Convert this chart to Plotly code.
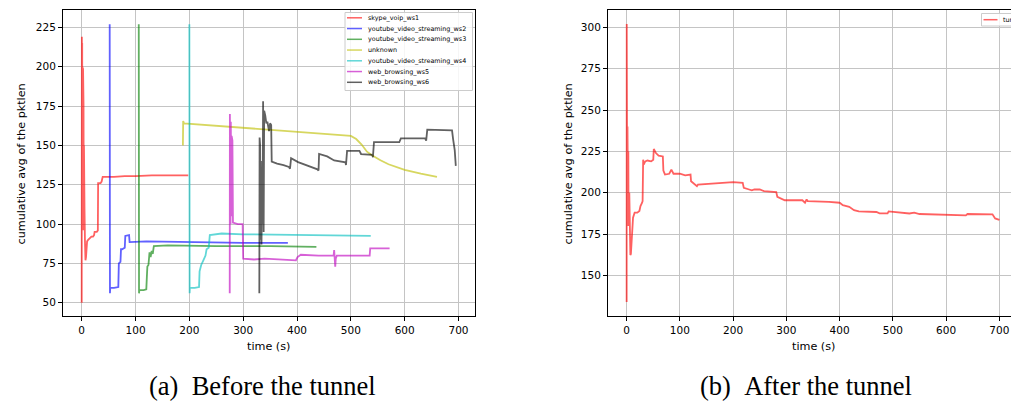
import plotly.graph_objects as go

# ---------------- data ----------------
series_names = ["skype_voip_ws1", "youtube_video_streaming_ws2", "youtube_video_streaming_ws3",
                "unknown", "youtube_video_streaming_ws4", "web_browsing_ws5", "web_browsing_ws6"]
series_colors = ["#ff0000", "#0000ff", "#008000", "#bfbf00", "#00bfbf", "#bf00bf", "#000000"]

ws1_t = [0, 0.1, 0.3, 0.6, 0.9, 1.2, 1.6, 2.0, 2.5, 3.0, 3.4, 3.8, 4.2, 4.6, 5.2, 6, 7, 8, 9, 10,
         12, 15, 18, 21, 23, 24, 28, 30, 30.5, 35, 37, 39, 45, 60, 80, 100, 130, 160, 198]
ws1_v = [50, 62, 219, 100, 215, 97, 200, 96, 199, 105, 176, 96, 150, 97, 110, 90, 77, 79, 84, 89,
         90, 91, 92, 92, 93, 95, 95, 96, 126, 126, 127, 130, 130, 130, 130.5, 130.5, 131, 131, 131]

ws2_t = [52, 52.5, 53, 60, 68, 69, 72, 73, 75, 80, 81, 88, 89, 120, 200, 300, 383]
ws2_v = [227, 56, 59.5, 59.5, 60, 75, 76, 84, 84, 85, 92.5, 93, 88.5, 89, 88.5, 88, 88]

ws3_t = [106, 106.5, 107, 115, 120, 121, 122, 124, 126, 128, 130, 132, 134, 160, 250, 350, 436]
ws3_v = [227, 56, 58, 58, 58.5, 66, 73, 74, 82, 79, 83, 81, 86, 86.5, 86, 86, 85.5]

unk_t = [188, 188.5, 190, 250, 300, 350, 400, 450, 500, 510, 520, 530, 540, 555, 570, 600, 630, 660]
unk_v = [150, 165.5, 164, 162.5, 161.3, 160, 158.7, 157.4, 156, 154, 150.5, 146, 143.5, 140.5,
         138, 134.5, 132, 130]

ws4_t = [200, 200.5, 201, 210, 218, 219, 222, 226, 230, 232, 236, 238, 260, 300, 400, 537]
ws4_v = [227, 56, 59.5, 59.5, 60, 70, 74, 77, 80, 84, 85, 93, 94, 93.5, 93, 92.5]

ws5_t = [275, 275.3, 276, 276.5, 277, 278, 278.5, 280, 281, 290, 299, 300, 320, 340, 380, 398,
         401, 407, 440, 468, 469, 470, 471, 472, 474, 500, 535, 536, 572]
ws5_v = [56, 170, 140, 100, 165, 105, 156, 153, 101, 100, 100, 78, 77.5, 78, 77.5, 77,
         79, 80.5, 80, 80, 83.5, 79, 73, 78, 80, 80, 80, 84.5, 84.5]

ws6_t = [330, 330.5, 331, 331.5, 332, 333, 334, 335, 336, 337, 338, 339, 341, 343, 345, 348, 350,
         352, 353, 363, 375, 385, 387, 389, 402, 419, 438, 440, 441, 456, 469, 490, 491, 493, 516,
         519, 540, 541, 543, 590, 593, 638, 640, 642, 688, 690, 693, 695]
ws6_v = [56, 155, 88, 150, 90, 140, 87, 120, 100, 178, 95, 172, 169, 164, 165, 159, 164,
         163, 139.7, 138.4, 137.5, 136.3, 135.2, 141.9, 139.4, 137.3, 134.8, 134, 144.6, 143, 140.4,
         139.2, 137.5, 146.5, 146.5, 144.5, 144, 142.5, 152, 152, 154.5, 154.5, 153, 160, 159.5,
         154, 147, 137]

tunnel_t = [0, 0.2, 0.4, 0.8, 1.2, 1.6, 2.0, 2.4, 2.8, 3.2, 3.6, 4.0, 4.5, 5, 5.5, 6, 7, 8, 10, 12,
            15, 20, 24, 26, 29, 30, 31, 32, 35, 39, 46, 50, 51, 55, 60, 68, 69, 72, 80, 84,
            88, 100, 110, 120, 121, 130, 132, 134, 160, 200, 218, 220, 230, 235, 240, 250, 258,
            281, 283, 290, 297, 330, 335, 338, 340, 380, 400, 406, 418, 427, 436, 469, 475, 490,
            492, 531, 540, 550, 600, 637, 640, 687, 692, 700]
tunnel_v = [134, 302, 140, 245, 180, 240, 185, 235, 182, 225, 180, 215, 185, 200, 175, 190, 162.5,
            163, 175, 185, 188, 188, 189, 192, 194, 195, 220, 217, 219, 219.5, 219, 220, 226.5, 224,
            222.5, 222, 213.5, 211, 211.5, 214, 211.5, 211.5, 210.5, 211, 207, 205, 204, 205,
            205.5, 206.5, 206, 203, 202, 201.5, 202, 202, 201, 200.5, 197.5, 196.5, 195.5, 195.5,
            194, 196, 195, 194.5, 194, 192.5, 191.5, 189.5, 188.8, 188.4, 187.6, 187.6, 188.8,
            187.5, 188, 187.2, 186.8, 186.4, 187.2, 187, 184.5, 183.7]
tunnel_name = "tunnel"

x_ticks = [0, 100, 200, 300, 400, 500, 600, 700]
left_y_ticks = [50, 75, 100, 125, 150, 175, 200, 225]
right_y_ticks = [150, 175, 200, 225, 250, 275, 300]
axis_x_label = "time (s)"
axis_y_label = "cumulative avg of the pktlen"
caption_a = "(a)\u00a0\u00a0Before the tunnel"
caption_b = "(b)\u00a0\u00a0After the tunnel"

left_series = [(ws1_t, ws1_v), (ws2_t, ws2_v), (ws3_t, ws3_v), (unk_t, unk_v),
               (ws4_t, ws4_v), (ws5_t, ws5_v), (ws6_t, ws6_v)]

# ---------------- layout geometry (pixels) ----------------
W, H = 1011, 404
def px(x):
    return x / W
def py(y):
    return 1 - y / H

LW = 1.8
OP = 0.62

fig = go.Figure()
for (t, v), name, col in zip(left_series, series_names, series_colors):
    fig.add_trace(go.Scatter(x=t, y=v, mode="lines", name=name, opacity=OP,
                             line=dict(color=col, width=LW), xaxis="x", yaxis="y"))
fig.add_trace(go.Scatter(x=tunnel_t, y=tunnel_v, mode="lines", name=tunnel_name, opacity=OP,
                         line=dict(color="#ff0000", width=LW), xaxis="x2", yaxis="y2"))

tickfont = dict(family="DejaVu Sans", size=10.5, color="black")
common_x = dict(showgrid=True, gridcolor="#c4c4c4", gridwidth=1, zeroline=False,
                showline=True, linecolor="black", linewidth=1, ticks="outside", ticklen=4,
                tickcolor="black", tickwidth=1, tickvals=x_ticks, tickfont=tickfont)
common_y = dict(showgrid=True, gridcolor="#c4c4c4", gridwidth=1, zeroline=False,
                showline=True, linecolor="black", linewidth=1, ticks="outside", ticklen=4,
                tickcolor="black", tickwidth=1, tickfont=tickfont)

fig.update_layout(
    width=W, height=H, margin=dict(l=0, r=0, t=0, b=0, autoexpand=False),
    paper_bgcolor="white", plot_bgcolor="white", showlegend=False,
    xaxis=dict(domain=[px(63), px(474.5)], range=[-34.75, 729.75], anchor="y", mirror=True, **common_x),
    yaxis=dict(domain=[py(316), py(10)], range=[41.6, 236], anchor="x", mirror=True,
               tickvals=left_y_ticks, **common_y),
    xaxis2=dict(domain=[px(608), 1.0], range=[-35, 721.8], anchor="y2", mirror=True, **common_x),
    yaxis2=dict(domain=[py(316), py(10)], range=[125.6, 310.4], anchor="x2", mirror=False,
                tickvals=right_y_ticks, **common_y),
)

shapes = []
annotations = []
# left legend (matplotlib-like box)
shapes.append(dict(type="rect", xref="paper", yref="paper", x0=px(345), x1=px(472.5),
                   y0=py(90.5), y1=py(12.5), line=dict(color="#cccccc", width=1),
                   fillcolor="rgba(255,255,255,0.85)", layer="above"))
row0, step = 17.8, 10.75
for i, (name, col) in enumerate(zip(series_names, series_colors)):
    yy = row0 + i * step
    shapes.append(dict(type="line", xref="paper", yref="paper", x0=px(347), x1=px(362),
                       y0=py(yy), y1=py(yy), line=dict(color=col, width=1.5), opacity=OP,
                       layer="above"))
    annotations.append(dict(text=name, xref="paper", yref="paper", x=px(365.5), y=py(yy),
                            xanchor="left", yanchor="middle", showarrow=False,
                            font=dict(family="DejaVu Sans", size=6.4, color="black")))
# right legend (cropped at the image edge, as in the reference)
shapes.append(dict(type="rect", xref="paper", yref="paper", x0=px(981.5), x1=px(1040),
                   y0=py(26), y1=py(13.5), line=dict(color="#cccccc", width=1),
                   fillcolor="rgba(255,255,255,0.85)", layer="above"))
shapes.append(dict(type="line", xref="paper", yref="paper", x0=px(983.5), x1=px(997.5),
                   y0=py(19.7), y1=py(19.7), line=dict(color="#ff0000", width=1.5), opacity=OP,
                   layer="above"))
annotations.append(dict(text=tunnel_name, xref="paper", yref="paper", x=px(1000.5), y=py(19.7),
                        xanchor="left", yanchor="middle", showarrow=False,
                        font=dict(family="DejaVu Sans", size=6.4, color="black")))

lab_font = dict(family="DejaVu Sans", size=11.2, color="black")
for xc in (268.5, 813.5):
    annotations.append(dict(text=axis_x_label, xref="paper", yref="paper", x=px(xc), y=py(346),
                            xanchor="center", yanchor="middle", showarrow=False, font=lab_font))
for xc in (20.5, 567.5):
    annotations.append(dict(text=axis_y_label, xref="paper", yref="paper", x=px(xc), y=py(164),
                            xanchor="center", yanchor="middle", showarrow=False, textangle=-90,
                            font=lab_font))
cap_font = dict(family="Liberation Serif", size=26.5, color="black")
annotations.append(dict(text=caption_a, xref="paper", yref="paper", x=px(262.5), y=py(386),
                        xanchor="center", yanchor="middle", showarrow=False, font=cap_font))
annotations.append(dict(text=caption_b, xref="paper", yref="paper", x=px(805.5), y=py(386),
                        xanchor="center", yanchor="middle", showarrow=False, font=cap_font))

fig.update_layout(shapes=shapes, annotations=annotations)
fig.write_html("out.html", post_script="document.body.style.margin='0';",
               config={"displayModeBar": False})
